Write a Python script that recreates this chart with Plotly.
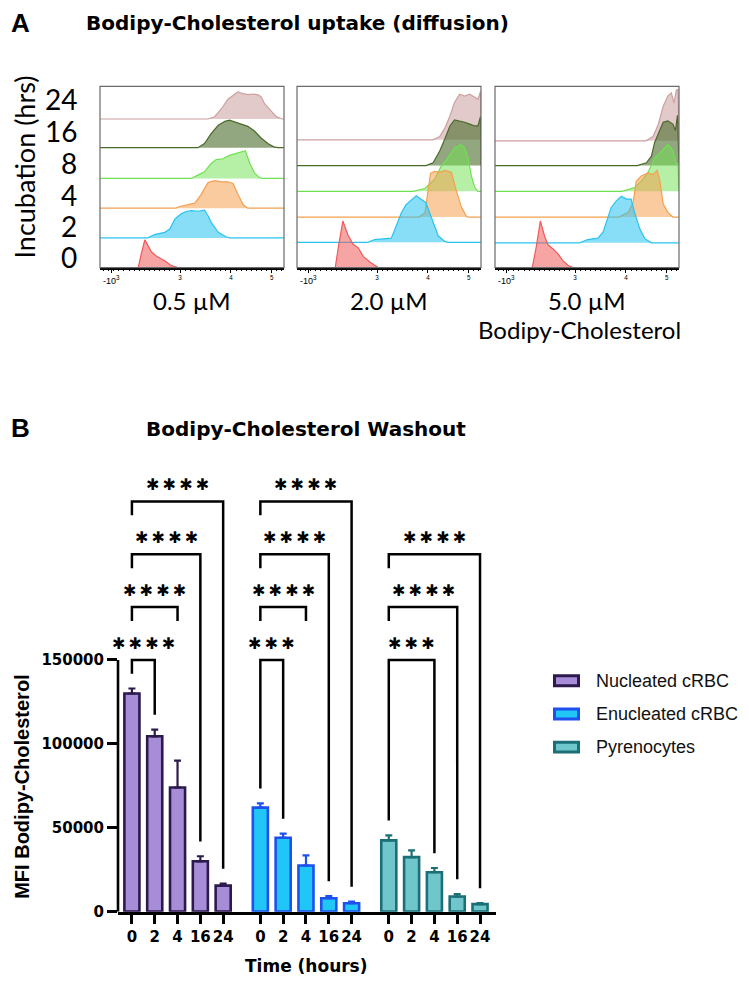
import plotly.graph_objects as go

W, H = 749, 981

# ---------------- Panel A: Bodipy-Cholesterol uptake histograms ----------------
# x in display decades of the flow axis, heights normalised to the mode (1.0)
HOURS = [0, 2, 4, 8, 16, 24]
CONCENTRATIONS = ["0.5 µM", "2.0 µM", "5.0 µM"]
FLOW_TICKS = [1.65, 3, 4, 4.8]
FLOW_TICK_TEXT = ["-10<sup>3</sup>", "<sup>3</sup>", "<sup>4</sup>", "<sup>5</sup>"]

UPTAKE_05 = {
    0: ([2.18, 2.24, 2.31, 2.37, 2.44, 2.54, 2.70, 2.83, 2.96],
        [0, 0.5, 1.0, 0.8, 0.56, 0.41, 0.25, 0.07, 0]),
    2: ([2.37, 2.50, 2.70, 2.80, 2.90, 3.03, 3.12, 3.22, 3.35, 3.48, 3.55, 3.61, 3.75, 3.91, 3.98],
        [0, 0.12, 0.2, 0.32, 0.68, 0.88, 0.95, 0.98, 0.96, 1.0, 0.8, 0.56, 0.2, 0.03, 0]),
    4: ([2.92, 2.99, 3.16, 3.29, 3.41, 3.55, 3.68, 3.81, 3.94, 4.04, 4.14, 4.24, 4.33],
        [0, 0.06, 0.14, 0.18, 0.48, 0.92, 0.99, 0.95, 0.95, 0.89, 0.48, 0.12, 0]),
    8: ([3.22, 3.35, 3.48, 3.61, 3.71, 3.84, 3.97, 4.14, 4.24, 4.28, 4.37, 4.46, 4.56, 4.61],
        [0, 0.12, 0.24, 0.54, 0.68, 0.71, 0.83, 0.92, 0.98, 1.0, 0.54, 0.2, 0.03, 0]),
    16: ([3.35, 3.48, 3.61, 3.75, 3.88, 3.97, 4.14, 4.33, 4.46, 4.59, 4.73, 4.84, 4.92],
         [0, 0.15, 0.51, 0.81, 0.95, 0.99, 0.89, 0.77, 0.6, 0.35, 0.14, 0.03, 0]),
    24: ([3.55, 3.68, 3.81, 3.94, 4.07, 4.14, 4.20, 4.33, 4.45, 4.53, 4.59, 4.66, 4.78, 4.88, 5.0],
         [0, 0.08, 0.36, 0.71, 0.89, 0.98, 0.93, 0.88, 0.9, 0.87, 0.8, 0.55, 0.3, 0.1, 0]),
}

UPTAKE_20 = {
    0: ([2.18, 2.25, 2.33, 2.43, 2.53, 2.63, 2.73, 2.86, 2.99, 3.02],
        [0, 0.5, 1.0, 0.7, 0.5, 0.43, 0.24, 0.12, 0.01, 0]),
    2: ([2.82, 2.95, 3.08, 3.28, 3.38, 3.48, 3.57, 3.67, 3.77, 3.87, 3.96, 4.03, 4.10, 4.20, 4.33, 4.39],
        [0, 0.06, 0.07, 0.09, 0.36, 0.64, 0.81, 0.91, 1.0, 0.92, 0.85, 0.64, 0.43, 0.14, 0.02, 0]),
    4: ([3.82, 3.94, 4.0, 4.05, 4.13, 4.23, 4.33, 4.46, 4.55, 4.65, 4.75, 4.78],
        [0, 0.09, 0.55, 0.94, 0.98, 0.96, 1.0, 0.96, 0.59, 0.23, 0.02, 0]),
    8: ([3.71, 3.94, 4.13, 4.26, 4.39, 4.52, 4.65, 4.72, 4.78, 4.85, 4.92, 4.98],
        [0, 0.06, 0.26, 0.54, 0.72, 0.93, 1.0, 0.93, 0.75, 0.33, 0.08, 0]),
    16: ([3.96, 4.10, 4.23, 4.33, 4.43, 4.52, 4.62, 4.72, 4.82, 4.92, 4.98, 5.03],
         [0, 0.06, 0.31, 0.57, 0.85, 0.98, 0.96, 0.93, 0.89, 0.85, 0.85, 1.05]),
    24: ([4.10, 4.23, 4.33, 4.43, 4.52, 4.62, 4.72, 4.82, 4.92, 4.98, 5.03],
         [0, 0.07, 0.25, 0.51, 0.8, 0.98, 0.94, 0.98, 0.91, 0.87, 1.04]),
}

UPTAKE_50 = {
    0: ([2.16, 2.24, 2.32, 2.41, 2.47, 2.57, 2.67, 2.76, 2.86, 2.96],
        [0, 0.45, 1.0, 0.65, 0.49, 0.4, 0.29, 0.15, 0.05, 0]),
    2: ([3.09, 3.25, 3.45, 3.55, 3.61, 3.71, 3.81, 3.91, 4.01, 4.10, 4.17, 4.27, 4.37, 4.50],
        [0, 0.07, 0.1, 0.23, 0.44, 0.76, 0.9, 1.0, 0.94, 0.94, 0.65, 0.3, 0.09, 0]),
    4: ([3.86, 4.04, 4.14, 4.20, 4.30, 4.43, 4.53, 4.61, 4.66, 4.73, 4.82, 4.92],
        [0, 0.1, 0.31, 0.77, 0.88, 0.95, 0.91, 1.0, 0.81, 0.28, 0.1, 0]),
    8: ([3.92, 4.17, 4.30, 4.43, 4.56, 4.69, 4.82, 4.92, 4.99, 5.02],
        [0, 0.08, 0.22, 0.4, 0.71, 0.85, 1.0, 0.88, 0.57, 0.6]),
    16: ([4.22, 4.40, 4.50, 4.56, 4.66, 4.73, 4.82, 4.92, 4.97, 5.01],
         [0, 0.06, 0.2, 0.49, 0.75, 0.93, 0.96, 0.89, 0.75, 1.08]),
    24: ([4.39, 4.53, 4.63, 4.73, 4.82, 4.89, 4.94, 4.99, 5.02],
         [0, 0.09, 0.34, 0.74, 0.96, 1.03, 0.81, 1.09, 1.1]),
}

HIST_LINE = {0: "rgb(240,90,90)", 2: "rgb(40,195,240)", 4: "rgb(244,160,80)",
             8: "rgb(110,225,80)", 16: "rgb(74,106,42)", 24: "rgb(205,160,160)"}
HIST_FILL = {0: "rgba(240,90,90,0.55)", 2: "rgba(40,195,240,0.55)", 4: "rgba(244,160,80,0.55)",
             8: "rgba(110,225,80,0.5)", 16: "rgba(74,106,42,0.6)", 24: "rgba(200,150,150,0.5)"}

# ---------------- Panel B: washout bars ----------------
TIMES = ["0", "2", "4", "16", "24"]
CELL_TYPES = ["Nucleated cRBC", "Enucleated cRBC", "Pyrenocytes"]
MFI_NUCLEATED = [130000, 104500, 74000, 30000, 15500]
SEM_NUCLEATED = [3000, 4000, 16000, 3000, 1200]
MFI_ENUCLEATED = [62000, 44000, 27500, 8000, 5000]
SEM_ENUCLEATED = [2500, 2500, 6000, 1200, 1000]
MFI_PYRENO = [42500, 32500, 23500, 9000, 4500]
SEM_PYRENO = [3000, 4000, 2500, 1500, 600]
# (cell type, time index a, time index b, significance)
COMPARISONS = [
    (0, 0, 1, "****"), (0, 0, 2, "****"), (0, 0, 3, "****"), (0, 0, 4, "****"),
    (1, 0, 1, "***"), (1, 0, 2, "****"), (1, 0, 3, "****"), (1, 0, 4, "****"),
    (2, 0, 2, "***"), (2, 0, 3, "****"), (2, 0, 4, "****"),
]
BAR_FILL = ["#a78dd7", "#20c6f6", "#6fc7cb"]
BAR_EDGE = ["#2c1a4d", "#1f50ee", "#1c6f77"]


def fx(px):
    return px / W


def fy(py):
    return 1 - py / H


fig = go.Figure()

# ----- panel A -----
PANEL_LEFT = [92, 289, 487]
PANEL_W = 184
A_TOP, A_BOT = 79, 262
X_RANGE = [1.43, 5.04]
PEAK_PX = [28, 47, 47]
ROW_OFF = [[0, 30, 60, 90, 121, 150], [0, 25.5, 51, 77, 103, 129], [0, 25, 51, 77, 103, 128]]

for p, uptake in enumerate([UPTAKE_05, UPTAKE_20, UPTAKE_50]):
    sfx = "" if p == 0 else str(p + 1)
    for k in reversed(range(len(HOURS))):
        hr = HOURS[k]
        xs, hs = uptake[hr]
        off = ROW_OFF[p][k]
        fig.add_trace(go.Scatter(
            x=[X_RANGE[0]] + xs + [X_RANGE[1]],
            y=[off] + [off + h * PEAK_PX[p] for h in hs] + [off],
            mode="lines", fill="toself", fillcolor=HIST_FILL[hr],
            line=dict(color=HIST_LINE[hr], width=1.2),
            xaxis="x" + sfx, yaxis="y" + sfx, hoverinfo="skip", showlegend=False,
        ))
    left = PANEL_LEFT[p]
    fig.layout["xaxis" + sfx] = dict(
        domain=[fx(left), fx(left + PANEL_W)], anchor="y" + sfx, range=X_RANGE,
        showgrid=False, zeroline=False, showline=True, linecolor="black", linewidth=1.5,
        ticks="outside", ticklen=4, tickwidth=1.2, tickcolor="black",
        tickmode="array", tickvals=FLOW_TICKS, ticktext=FLOW_TICK_TEXT,
        tickfont=dict(family="Liberation Sans", size=9, color="black"),
        minor=dict(ticks="outside", ticklen=2, tickwidth=1, tickcolor="black", dtick=0.1, tick0=0),
        fixedrange=True,
    )
    fig.layout["yaxis" + sfx] = dict(
        domain=[fy(A_BOT), fy(A_TOP)], anchor="x" + sfx, range=[0, A_BOT - A_TOP],
        visible=False, fixedrange=True,
    )
    fig.add_shape(type="rect", xref=f"x{sfx} domain", yref=f"y{sfx} domain",
                  x0=0, x1=1, y0=0, y1=1, line=dict(color="#6a6a6a", width=1.2), layer="above")

# ----- panel B -----
GROUP_STEP = 5.63
BAR_W = 0.66
B_LEFT, B_RIGHT, B_ZERO, B_TOP = 110, 488, 912, 454.8
Y_MAX = 270000
PX_UNIT = Y_MAX / (B_ZERO - B_TOP)

series = [(MFI_NUCLEATED, SEM_NUCLEATED), (MFI_ENUCLEATED, SEM_ENUCLEATED), (MFI_PYRENO, SEM_PYRENO)]
tickvals, ticktext = [], []
for g, (vals, errs) in enumerate(series):
    xs = [g * GROUP_STEP + i for i in range(len(TIMES))]
    tickvals += xs
    ticktext += TIMES
    fig.add_trace(go.Bar(
        x=xs, y=vals, width=BAR_W, name=CELL_TYPES[g],
        marker=dict(color=BAR_FILL[g], line=dict(color=BAR_EDGE[g], width=2.6)),
        error_y=dict(type="data", array=errs, arrayminus=[0] * len(errs), symmetric=False,
                     color=BAR_EDGE[g], thickness=2.2, width=3.5),
        xaxis="x4", yaxis="y4", showlegend=False, hoverinfo="skip",
    ))

bold = dict(family="DejaVu Sans", weight="bold", color="black")
fig.update_layout(
    xaxis4=dict(domain=[fx(B_LEFT), fx(B_RIGHT)], anchor="y4",
                range=[-0.61, 2 * GROUP_STEP + 4 + 0.7],
                showgrid=False, zeroline=False, showline=True, linecolor="black", linewidth=2.6,
                ticks="outside", ticklen=10, tickwidth=2.6, tickcolor="black",
                tickmode="array", tickvals=tickvals, ticktext=ticktext, tickangle=0,
                tickfont=dict(size=15, **bold), fixedrange=True),
    yaxis4=dict(domain=[fy(B_ZERO), fy(B_TOP)], anchor="x4", range=[0, Y_MAX],
                showgrid=False, zeroline=False, showline=False,
                ticks="outside", ticklen=10, tickwidth=2.6, tickcolor="black",
                tickmode="array", tickvals=[0, 50000, 100000, 150000],
                ticktext=["0", "50000", "100000", "150000"],
                tickfont=dict(size=15, **bold), fixedrange=True),
)
fig.add_shape(type="line", xref="x4 domain", yref="y4", x0=0, x1=0, y0=0, y1=150000,
              line=dict(color="black", width=2.6))

# significance brackets
LEVEL0, LEVEL_STEP = 150000, 31500
GAP = 15 * PX_UNIT
SHORT = 14 * PX_UNIT
level_count = {}
annotations = []
for g, a, b, stars in COMPARISONS:
    level = level_count.get(g, 0)
    level_count[g] = level + 1
    vals, errs = series[g]
    xa, xb = g * GROUP_STEP + a, g * GROUP_STEP + b
    yl = LEVEL0 + level * LEVEL_STEP
    ya = vals[a] + errs[a] + GAP if level == 0 else yl - SHORT
    yb = vals[b] + errs[b] + GAP if (level == 0 or b >= 3) else yl - SHORT
    fig.add_shape(type="path", xref="x4", yref="y4",
                  path=f"M{xa},{ya} L{xa},{yl} L{xb},{yl} L{xb},{yb}",
                  line=dict(color="black", width=2.5))
    annotations.append(dict(
        x=(xa + xb) / 2, y=yl + 17 * PX_UNIT, xref="x4", yref="y4",
        text="\u2009".join(["✱"] * len(stars)), showarrow=False,
        font=dict(family="DejaVu Sans", size=16, color="black"), xanchor="center", yanchor="middle"))

# legend (drawn by hand for the wide swatches)
for g, name in enumerate(CELL_TYPES):
    cy = 679 + g * 33.5
    fig.add_shape(type="rect", xref="paper", yref="paper",
                  x0=fx(546.5), x1=fx(570.5), y0=fy(cy + 5), y1=fy(cy - 5),
                  fillcolor=BAR_FILL[g], line=dict(color=BAR_EDGE[g], width=3))
    annotations.append(dict(x=fx(586), y=fy(cy), xref="paper", yref="paper", text=name,
                            showarrow=False, xanchor="left", yanchor="middle",
                            font=dict(family="Liberation Sans", size=18, color="#111")))

# ----- text -----
lato = dict(family="Lato", color="black")


def note(x, y, text, font, xanchor="center", angle=0):
    annotations.append(dict(x=fx(x), y=fy(y), xref="paper", yref="paper", text=text,
                            showarrow=False, xanchor=xanchor, yanchor="middle",
                            textangle=angle, font=font))


note(1, 15, "A", dict(family="Liberation Sans", weight="bold", size=26, color="black"), "left")
note(76, 15, "Bodipy-Cholesterol uptake (diffusion)", dict(size=20, **bold), "left")
note(17, 161, "Incubation (hrs)", dict(size=27, **lato), angle=-90)
for k, y in enumerate([251, 220, 189, 156, 124, 92]):
    note(71, y, str(HOURS[k]), dict(size=28, **lato), "right")
for p, conc in enumerate(CONCENTRATIONS):
    note(PANEL_LEFT[p] + PANEL_W / 2, 295, conc, dict(size=24, **lato))
note(571, 324, "Bodipy-Cholesterol", dict(size=24, **lato))

note(1, 424, "B", dict(family="Liberation Sans", weight="bold", size=26, color="black"), "left")
note(298, 425, "Bodipy-Cholesterol Washout", dict(size=20, **bold))
note(14, 786, "MFI Bodipy-Cholesterol",
     dict(family="Liberation Sans", weight="bold", size=20, color="black"), angle=-90)
note(298, 967, "Time (hours)", dict(size=17, **bold))

fig.update_layout(
    width=W, height=H, margin=dict(l=0, r=0, t=0, b=0),
    paper_bgcolor="white", plot_bgcolor="white", showlegend=False,
    annotations=annotations,
)

fig.write_html("out.html")
